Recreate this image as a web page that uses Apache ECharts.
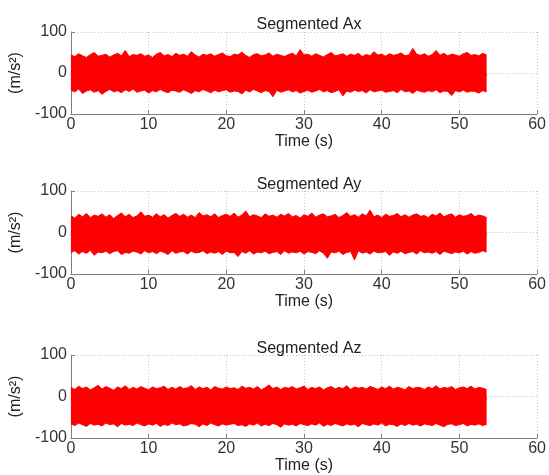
<!DOCTYPE html>
<html>
<head>
<meta charset="utf-8">
<script src="https://cdn.jsdelivr.net/npm/echarts@6/dist/echarts.min.js"></script>
<style>html,body{margin:0;padding:0;background:#fff;}#c{width:549px;height:475px;}</style>
</head>
<body>
<div id="c"></div>
<script>
// ---- data (envelope of the dense signal every 0.5 s) ----
const titles = ['Segmented Ax', 'Segmented Ay', 'Segmented Az'];
const xTicks = [0, 10, 20, 30, 40, 50, 60];
const yTicks = [-100, 0, 100];
const tStart = 0, tStep = 0.5; // sample spacing of the envelope values (s)

const axHi = [44,40,47,42,38,45,50,41,43,46, 39,44,48,42,55,40,45,43,47,41, 44,38,46,50,42,45,40,48,43,46,
  41,52,44,39,46,43,47,41,45,49, 42,40,46,44,51,43,38,45,47,42, 44,49,41,46,43,40,45,48,42,57,
  44,46,41,47,43,39,45,50,42,44, 47,41,46,43,48,40,45,42,52,44, 46,41,47,43,45,49,42,44,60,46,
  43,47,41,45,55,43,48,42,46,44, 41,47,50,43,45,42,48,44];
const axLo = [-42,-46,-39,-50,-44,-41,-47,-43,-52,-45, -40,-46,-43,-48,-41,-45,-39,-47,-44,-42, -49,-43,-46,-40,-45,-48,-42,-44,-47,-41,
  -45,-50,-43,-46,-40,-44,-48,-42,-46,-43, -41,-47,-44,-45,-51,-42,-46,-40,-44,-48, -43,-45,-58,-42,-47,-44,-41,-46,-43,-49,
  -45,-42,-47,-44,-40,-46,-43,-48,-45,-41, -56,-44,-47,-42,-45,-43,-49,-41,-46,-44, -42,-47,-45,-43,-48,-40,-46,-44,-50,-42,
  -45,-47,-43,-46,-41,-48,-44,-45,-55,-43, -46,-42,-47,-44,-45,-49,-43,-46];

const ayHi = [40,35,44,38,46,36,42,39,45,37, 43,34,41,47,38,44,36,40,50,39, 42,37,45,38,43,35,41,46,39,44,
  37,42,36,48,40,43,38,45,36,41, 44,39,47,37,42,52,38,43,40,36, 45,39,42,37,44,40,46,38,41,35,
  43,39,47,37,42,45,38,40,44,36, 41,48,39,43,37,45,40,54,38,42, 36,44,39,41,46,38,43,37,42,45,
  39,41,36,44,40,47,38,42,45,37, 43,39,41,46,38,42,40,36];
const ayLo = [-48,-44,-52,-46,-50,-43,-55,-47,-49,-45, -51,-46,-44,-53,-48,-50,-45,-47,-52,-44, -49,-46,-51,-45,-48,-53,-44,-50,-47,-46,
  -52,-45,-49,-48,-44,-51,-47,-50,-46,-53, -45,-49,-48,-58,-46,-50,-44,-52,-47,-49, -45,-51,-48,-46,-53,-44,-50,-47,-49,-45,
  -52,-46,-48,-51,-44,-50,-62,-47,-49,-45, -53,-48,-46,-66,-44,-50,-47,-52,-45,-49, -48,-46,-55,-47,-50,-45,-51,-48,-46,-52,
  -44,-49,-47,-50,-46,-53,-45,-48,-51,-47, -49,-45,-52,-46,-50,-48,-44,-47];

const azHi = [22,17,25,19,23,16,21,27,18,24, 20,15,23,19,26,17,22,18,24,20, 16,23,19,21,25,17,22,18,24,19,
  21,26,17,23,19,22,16,24,20,18, 23,19,21,17,25,20,22,18,24,16, 21,28,19,23,17,22,20,24,18,21,
  25,17,22,19,23,16,21,24,18,22, 19,26,17,23,20,22,18,24,21,17, 23,19,25,18,22,20,16,24,19,22,
  21,17,23,19,26,18,22,20,24,17, 21,23,19,25,18,22,20,17];
const azLo = [-66,-70,-64,-68,-72,-65,-69,-67,-71,-64, -68,-66,-73,-65,-69,-67,-70,-64,-68,-71, -66,-69,-65,-72,-67,-70,-64,-68,-66,-71,
  -69,-65,-67,-73,-66,-70,-64,-68,-71,-66, -69,-67,-65,-70,-68,-72,-66,-69,-64,-71, -67,-70,-65,-68,-74,-66,-69,-67,-71,-65,
  -68,-70,-66,-69,-64,-72,-67,-70,-65,-68, -71,-66,-69,-67,-73,-65,-68,-70,-66,-69, -64,-71,-67,-68,-72,-66,-70,-65,-69,-67,
  -71,-66,-68,-70,-65,-69,-73,-67,-66,-70, -68,-65,-71,-67,-69,-66,-70,-67];

const envelopes = [[axHi, axLo], [ayHi, ayLo], [azHi, azLo]];

// ---- chart ----
const FONT = '"Liberation Sans", Arial, sans-serif';
const gridTops = [32, 191, 355];
const gridHeights = [82, 83, 83];
const titleTops = [12, 172, 336];
const RED = '#ff0000';

const option = {
  animation: false,
  backgroundColor: '#fff',
  title: titles.map((t, i) => ({
    text: t, left: 304, top: titleTops[i], textAlign: 'center',
    textStyle: { fontFamily: FONT, fontSize: 16, fontWeight: 'normal', color: '#222' }
  })),
  grid: gridTops.map((top, i) => ({ left: 70, right: 10, top: top, height: gridHeights[i] })),
  xAxis: gridTops.map((_, i) => ({
    type: 'value', gridIndex: i, min: xTicks[0], max: xTicks[xTicks.length - 1], interval: 10,
    name: 'Time (s)', nameLocation: 'middle', nameGap: 16,
    nameTextStyle: { fontFamily: FONT, fontSize: 16, color: '#222' },
    axisLine: { show: true, onZero: false, lineStyle: { color: '#808080', width: 1 } },
    axisTick: { show: true, inside: true, length: 4, lineStyle: { color: '#808080' } },
    axisLabel: { fontFamily: FONT, fontSize: 16, color: '#333', margin: 3 },
    splitLine: { show: true, lineStyle: { color: '#c4c4c4', type: [1, 2], width: 1 } }
  })),
  yAxis: gridTops.map((_, i) => ({
    type: 'value', gridIndex: i, min: yTicks[0], max: yTicks[yTicks.length - 1], interval: 100,
    name: '(m/s²)', nameLocation: 'middle', nameGap: 41,
    nameTextStyle: { fontFamily: FONT, fontSize: 16, color: '#222' },
    axisLine: { show: true, onZero: false, lineStyle: { color: '#808080', width: 1 } },
    axisTick: { show: true, inside: true, length: 4, lineStyle: { color: '#808080' } },
    axisLabel: { fontFamily: FONT, fontSize: 16, color: '#333', margin: 4 },
    splitLine: { show: true, lineStyle: { color: '#c4c4c4', type: [1, 2], width: 1 } }
  })),
  series: []
};

envelopes.forEach(([hi, lo], i) => {
  // upper envelope filled down past zero, lower envelope filled up to zero: the two overlap, no seam
  [[hi, -8], [lo, 0]].forEach(([arr, org]) => {
    option.series.push({
      type: 'line', xAxisIndex: i, yAxisIndex: i,
      data: arr.map((v, k) => [tStart + k * tStep, v]),
      symbol: 'none', silent: true,
      lineStyle: { color: RED, width: 1 },
      areaStyle: { color: RED, opacity: 1, origin: org }
    });
  });
});

const chart = echarts.init(document.getElementById('c'), null, { renderer: 'canvas' });
chart.setOption(option);
</script>
</body>
</html>
